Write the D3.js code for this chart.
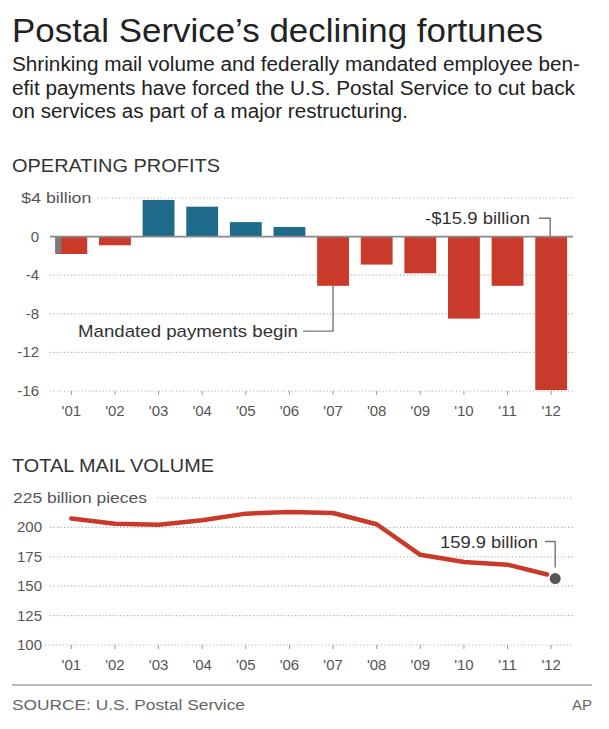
<!DOCTYPE html>
<html><head><meta charset="utf-8">
<script src="https://cdn.jsdelivr.net/npm/d3@7"></script>
<style>
body{margin:0;background:#fff;}
svg{display:block;font-family:"Liberation Sans",Arial,Helvetica,sans-serif;}
</style></head><body>
<svg id="c" width="609" height="729"></svg>
<script>
// ---- data ----
const years = ["'01","'02","'03","'04","'05","'06","'07","'08","'09","'10","'11","'12"];
const profits = [-1.8,-0.9,3.8,3.1,1.5,1.0,-5.1,-2.9,-3.8,-8.5,-5.1,-15.9];
const profitTicks = [4,0,-4,-8,-12,-16];
const volume = [207.5,203.1,202.2,206.1,211.7,213.1,212.2,202.7,176.7,170.6,168.3,159.9];
const volumeTicks = [225,200,175,150,125,100];
const firstBarSliver = -1.7;

const svg = d3.select("#c");
const RED = "#c93a2a", BLUE = "#1d6a8a", GRID = "#b0b0b0";

function fit(sel, w){ sel.attr("textLength", w).attr("lengthAdjust","spacingAndGlyphs"); return sel; }

// ---- header ----
fit(svg.append("text").attr("x",12).attr("y",42).attr("font-size",33).attr("fill","#222")
  .text("Postal Service\u2019s declining fortunes"), 531);
const sub = ["Shrinking mail volume and federally mandated employee ben-",
             "efit payments have forced the U.S. Postal Service to cut back",
             "on services as part of a major restructuring."];
const subW = [568, 563, 396];
sub.forEach((s,i)=>{
  fit(svg.append("text").attr("x",12).attr("y",71+i*23.5).attr("font-size",20).attr("fill","#222").text(s), subW[i]);
});

// ---- shared x ----
const x = d3.scaleBand().domain(years).range([49.5,573]).paddingInner(0.27).paddingOuter(0.135);
const cx = d => x(d) + x.bandwidth()/2;

// ---- operating profits ----
fit(svg.append("text").attr("x",12).attr("y",172).attr("font-size",18).attr("fill","#333").text("OPERATING PROFITS"), 208);
const y1 = d3.scaleLinear().domain([-16,4]).range([391,198]);
const g1 = svg.append("g");
profitTicks.forEach(t=>{
  if (t===0) return;
  g1.append("line").attr("x1", t===4?98:50).attr("x2",573).attr("y1",y1(t)).attr("y2",y1(t))
    .attr("stroke",GRID).attr("stroke-width",1.2).attr("stroke-dasharray","1.2,2.3");
});
const lab1 = g1.append("g").attr("font-size",15).attr("fill","#555");
profitTicks.forEach(t=>{
  if (t===4){
    const tmp = lab1.append("text").attr("font-size",15).text("$4");
    const w = tmp.node().getComputedTextLength(); tmp.remove();
    fit(lab1.append("text").attr("x",39-w-1).attr("y",y1(t)+5).text("$4 billion"), 70);
  } else {
    lab1.append("text").attr("x",39).attr("y",y1(t)+5).attr("text-anchor","end").text(t);
  }
});
g1.selectAll("rect.bar").data(profits).join("rect")
  .attr("x",(d,i)=>x(years[i])).attr("width",x.bandwidth())
  .attr("y",d=>y1(Math.max(0,d))).attr("height",d=>Math.abs(y1(d)-y1(0)))
  .attr("fill",d=>d<0?RED:BLUE);
g1.append("rect").attr("x",x(years[0])).attr("width",6)
  .attr("y",y1(0)).attr("height",y1(firstBarSliver)-y1(0)).attr("fill","#7a7a7a");
g1.append("line").attr("x1",50).attr("x2",573).attr("y1",y1(0)).attr("y2",y1(0)).attr("stroke","#8a8a8a").attr("stroke-width",1.6);
const ax1 = d3.axisBottom(x).tickSize(4).tickSizeOuter(0).tickPadding(10);
const a1 = g1.append("g").attr("transform",`translate(0,${y1(-16)})`).call(ax1);
a1.select(".domain").remove();
a1.selectAll(".tick line").attr("stroke","#999");
a1.selectAll(".tick text").attr("font-size",15).attr("fill","#555").attr("font-family","Liberation Sans, Arial, sans-serif");
const ann = g1.append("g").attr("fill","none").attr("stroke","#777").attr("stroke-width",1.4);
const x07 = cx("'07"), x12 = cx("'12");
ann.append("path").attr("d",`M303,${y1(-9.8)}H${x07}V${y1(profits[6])}`);
ann.append("path").attr("d",`M539,${y1(1.9)}H${x12-1}V${y1(0)}`);
fit(g1.append("text").attr("x",78).attr("y",y1(-9.8)+6).attr("font-size",17).attr("fill","#333").text("Mandated payments begin"),220);
fit(g1.append("text").attr("x",425).attr("y",y1(1.9)+6).attr("font-size",17).attr("fill","#333").text("-$15.9 billion"),105);

// ---- mail volume ----
fit(svg.append("text").attr("x",12).attr("y",472).attr("font-size",18).attr("fill","#333").text("TOTAL MAIL VOLUME"), 202);
const y2 = d3.scaleLinear().domain([100,225]).range([645,498]);
const g2 = svg.append("g");
volumeTicks.forEach(t=>{
  g2.append("line").attr("x1", t===225?157:(t===100?45:50)).attr("x2",573).attr("y1",y2(t)).attr("y2",y2(t))
    .attr("stroke",GRID).attr("stroke-width",1.2).attr("stroke-dasharray","1.2,2.3");
});
const lab2 = g2.append("g").attr("font-size",15).attr("fill","#555");
volumeTicks.forEach(t=>{
  if (t===225){
    fit(lab2.append("text").attr("x",13).attr("y",y2(t)+5).text("225 billion pieces"),134);
  } else {
    lab2.append("text").attr("x",42).attr("y",y2(t)+5).attr("text-anchor","end").text(t);
  }
});
const ax2 = d3.axisBottom(x).tickSize(4).tickSizeOuter(0).tickPadding(10);
const a2 = g2.append("g").attr("transform",`translate(0,${y2(100)})`).call(ax2);
a2.select(".domain").remove();
a2.selectAll(".tick line").attr("stroke","#999");
a2.selectAll(".tick text").attr("font-size",15).attr("fill","#555").attr("font-family","Liberation Sans, Arial, sans-serif");
const line = d3.line().x((d,i)=>cx(years[i])-(i===11?4:0)).y(d=>y2(d)).curve(d3.curveLinear);
g2.append("path").datum(volume).attr("d",line).attr("fill","none").attr("stroke",RED).attr("stroke-width",4.5).attr("stroke-linejoin","round").attr("stroke-linecap","round");
g2.append("circle").attr("cx",x12+4).attr("cy",y2(volume[11])+4).attr("r",5.5).attr("fill","#555");
g2.append("path").attr("d",`M545,${y2(188)}H${x12+4}V${y2(166)}`).attr("fill","none").attr("stroke","#777").attr("stroke-width",1.4);
fit(g2.append("text").attr("x",440).attr("y",y2(188)+6).attr("font-size",17).attr("fill","#333").text("159.9 billion"),98);

// ---- footer ----
svg.append("line").attr("x1",12).attr("x2",592).attr("y1",685).attr("y2",685).attr("stroke","#bbb").attr("stroke-width",2);
fit(svg.append("text").attr("x",12).attr("y",710).attr("font-size",15).attr("fill","#666").text("SOURCE: U.S. Postal Service"),233);
svg.append("text").attr("x",592).attr("y",710).attr("text-anchor","end").attr("font-size",15).attr("fill","#666").text("AP");
</script></body></html>
